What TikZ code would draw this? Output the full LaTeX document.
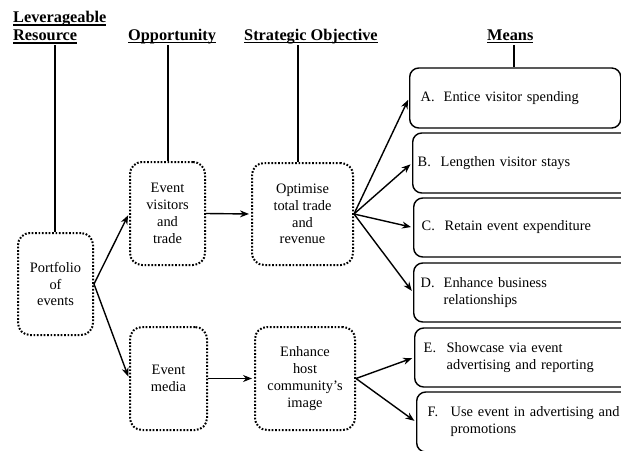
\documentclass[tikz,border=0pt]{standalone}
\usepackage{fontspec}
\setmainfont{Liberation Serif}
\usetikzlibrary{arrows.meta}
\newsavebox\hdbox
\newcommand\hdul[1]{\sbox\hdbox{#1}\rlap{\rule[-3pt]{\wd\hdbox}{1.4pt}}\usebox\hdbox}
\newcommand\meanitem[2]{\begin{tabular}{@{}p{23pt}@{}l@{}}#1&#2\end{tabular}}
\begin{document}
\begin{tikzpicture}[x=1pt,y=-1pt,
  every node/.style={font=\fontsize{14.4}{16.8}\selectfont},
  dotbox/.style={draw, line width=2pt, dash pattern=on 1.7pt off 1.7pt, rounded corners=12pt, align=center, inner sep=2pt},
  meansbox/.style={draw, line width=1.4pt, rounded corners=9pt, anchor=west, align=left, inner ysep=0pt},
  head/.style={font=\fontsize{16.3}{18}\selectfont\bfseries, inner sep=0pt},
  arr/.style={line width=1.4pt, -{Stealth[length=9pt,width=7pt]}, shorten >=2pt},
  stem/.style={line width=1.4pt}]
\useasboundingbox (0,0) rectangle (621,450);
\clip (0,0) rectangle (621,450);

% headings
\node[head, anchor=north west, align=left] (lev) at (13,11) {\hdul{Leverageable}\\\hdul{Resource}};
\node[head, anchor=base west] (opp) at (128,40) {\hdul{Opportunity}};
\node[head, anchor=base west] (str) at (244,40) {\hdul{Strategic Objective}};
\node[head, anchor=base west] (mea) at (487,40) {\hdul{Means}};

% dotted boxes
\node[dotbox, minimum width=75pt, minimum height=102pt] (port) at (55.5,284) {Portfolio\\of\\events};
\node[dotbox, minimum width=75pt, minimum height=103pt] (evt) at (167.5,213.5) {Event\\visitors\\and\\trade};
\node[dotbox, minimum width=101pt, minimum height=102pt] (opt) at (302.5,214) {Optimise\\total trade\\and\\revenue};
\node[dotbox, minimum width=77pt, minimum height=103pt] (med) at (168.5,378.5) {Event\\media};
\node[dotbox, minimum width=100pt, minimum height=103pt] (enh) at (305,378.5) {Enhance\\host\\community’s\\image};

% means boxes
\node[meansbox, minimum height=60pt, inner xsep=11pt, text width=189pt] (ma) at (409,98) {\meanitem{A.}{Entice visitor spending}};
\node[meansbox, minimum height=60pt, inner xsep=5pt, text width=218pt] (mb) at (412,163) {\meanitem{B.}{Lengthen visitor stays}};
\node[meansbox, minimum height=59pt, inner xsep=8pt, text width=211pt] (mc) at (413,227.5) {\meanitem{C.}{Retain event expenditure}};
\node[meansbox, minimum height=59pt, inner xsep=7pt, text width=213pt] (md) at (413,292.5) {\meanitem{D.}{Enhance business\\ & relationships}};
\node[meansbox, minimum height=59pt, inner xsep=9pt, text width=208pt] (me) at (414,357.5) {\meanitem{E.}{Showcase via event\\ & advertising and reporting}};
\node[meansbox, minimum height=60pt, inner xsep=11pt, text width=202pt] (mf) at (416,422) {\meanitem{F.}{Use event in advertising and\\ & promotions}};

% stems
\coordinate (levs) at (55,45);
\coordinate (opps) at (168,45);
\coordinate (strs) at (298,45);
\coordinate (meas) at (514,45);
\draw[stem] (levs) -- (levs |- port.north);
\draw[stem] (opps) -- (opps |- evt.north);
\draw[stem] (strs) -- (strs |- opt.north);
\draw[stem] (meas) -- (meas |- ma.north);

% arrows
\draw[arr] (port.east) -- (evt.west);
\draw[arr] (port.east) -- (med.west);
\draw[arr] (evt.east) -- (opt.west);
\draw[arr] (med.east) -- (enh.west);
\draw[arr] (opt.east) -- (ma.west);
\draw[arr] (opt.east) -- (mb.west);
\draw[arr] (opt.east) -- (mc.west);
\draw[arr] (opt.east) -- (md.west);
\draw[arr] (enh.east) -- (me.west);
\draw[arr] (enh.east) -- (mf.west);
\end{tikzpicture}
\end{document}
